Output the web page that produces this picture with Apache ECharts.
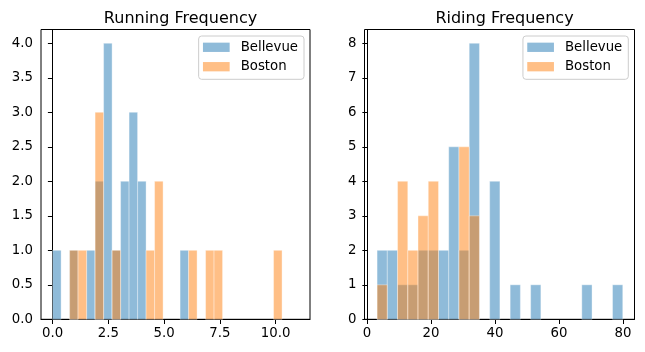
<!DOCTYPE html>
<html>
<head>
<meta charset="utf-8">
<script src="https://cdn.jsdelivr.net/npm/echarts@6/dist/echarts.min.js"></script>
<style>
html, body { margin: 0; padding: 0; background: #fff; }
#chart { width: 645px; height: 352px; }
</style>
</head>
<body>
<div id="chart"></div>
<script>
const seriesNames = ["Bellevue", "Boston"]

// running frequency, shared bins
const runBinStart = 0
const runBinWidth = 0.381
const runBellevue = [1, 0, 1, 0, 1, 2, 4, 1, 2, 3, 2, 0, 0, 0, 0, 1, 0, 0, 0, 0, 0, 0, 0, 0, 0, 0, 0]
const runBoston = [0, 0, 1, 1, 0, 3, 0, 1, 0, 0, 0, 1, 2, 0, 0, 0, 1, 0, 1, 1, 0, 0, 0, 0, 0, 0, 1]
const runXTicks = [0, 2.5, 5, 7.5, 10]
const runYTicks = [0, 0.5, 1, 1.5, 2, 2.5, 3, 3.5, 4]

// riding frequency, shared bins
const rideBinStart = 3.13
const rideBinWidth = 3.2
const rideBellevue = [2, 2, 1, 1, 2, 2, 2, 5, 2, 8, 0, 4, 0, 1, 0, 1, 0, 0, 0, 0, 1, 0, 0, 1]
const rideBoston = [1, 0, 4, 2, 3, 4, 0, 0, 5, 3, 0, 0, 0, 0, 0, 0, 0, 0, 0, 0, 0, 0, 0, 0]
const rideXTicks = [0, 20, 40, 60, 80]
const rideYTicks = [0, 1, 2, 3, 4, 5, 6, 7, 8]

const blue = "rgba(31,119,180,0.5)"
const orange = "rgba(255,127,14,0.5)"
const font = "DejaVu Sans"

const toBins = (counts, start, width) =>
	counts.map((c, i) => [start + i * width, start + (i + 1) * width, c]).filter(d => d[2] > 0)

const renderBar = color => (params, api) => {
	const p0 = api.coord([api.value(0), 0])
	const p1 = api.coord([api.value(1), api.value(2)])
	return {
		type: "rect",
		shape: { x: p0[0], y: p1[1], width: p1[0] - p0[0], height: p0[1] - p1[1] },
		style: { fill: color, stroke: "rgba(255,255,255,0.45)", lineWidth: 0.8 }
	}
}

const hist = (name, color, counts, start, width, idx) => ({
	name: name,
	type: "custom",
	xAxisIndex: idx,
	yAxisIndex: idx,
	itemStyle: { color: color },
	encode: { x: [0, 1], y: 2 },
	renderItem: renderBar(color),
	data: toBins(counts, start, width)
})

const xAxis = (idx, min, max, ticks, fmt) => ({
	type: "value",
	gridIndex: idx,
	min: min,
	max: max,
	axisLine: { show: true, onZero: false, lineStyle: { color: "#000", width: 1 } },
	axisTick: { show: true, customValues: ticks, length: 4.7, lineStyle: { color: "#000", width: 1 } },
	axisLabel: { customValues: ticks, formatter: fmt, margin: 8, color: "#000", fontSize: 13.3, fontFamily: font },
	splitLine: { show: false }
})

const yAxis = (idx, max, ticks, fmt) => ({
	type: "value",
	gridIndex: idx,
	min: 0,
	max: max,
	axisLine: { show: true, lineStyle: { color: "#000", width: 1 } },
	axisTick: { show: true, customValues: ticks, length: 4.7, lineStyle: { color: "#000", width: 1 } },
	axisLabel: { customValues: ticks, formatter: fmt, margin: 8, color: "#000", fontSize: 13.3, fontFamily: font },
	splitLine: { show: false }
})

const legend = right => ({
	orient: "vertical",
	right: right,
	top: 36,
	data: seriesNames,
	icon: "rect",
	itemWidth: 26.7,
	itemHeight: 9.3,
	itemGap: 3.4,
	padding: [3.3, 6, 4.6, 4.3],
	backgroundColor: "rgba(255,255,255,0.8)",
	borderColor: "#cccccc",
	borderWidth: 1,
	borderRadius: 3,
	selectedMode: false,
	textStyle: { fontSize: 13.3, fontFamily: font, color: "#000", lineHeight: 16, padding: [0, 0, 0, 6] }
})

const option = {
	animation: false,
	title: [
		{ text: "Running Frequency", left: 175.5, top: 6, textAlign: "center",
			textStyle: { fontSize: 16, fontWeight: "normal", fontFamily: font, color: "#000" } },
		{ text: "Riding Frequency", left: 499.5, top: 6, textAlign: "center",
			textStyle: { fontSize: 16, fontWeight: "normal", fontFamily: font, color: "#000" } }
	],
	legend: [legend(341), legend(16.7)],
	grid: [
		{ left: 41, top: 29.5, width: 269, height: 289.8, show: true, borderColor: "#000", borderWidth: 1 },
		{ left: 364.5, top: 29.5, width: 270, height: 289.8, show: true, borderColor: "#000", borderWidth: 1 }
	],
	xAxis: [
		xAxis(0, -0.52, 11.54, runXTicks, v => v.toFixed(1)),
		xAxis(1, -0.8, 83.6, rideXTicks, v => String(v))
	],
	yAxis: [
		yAxis(0, 4.2, runYTicks, v => v.toFixed(1)),
		yAxis(1, 8.4, rideYTicks, v => String(v))
	],
	series: [
		hist(seriesNames[0], blue, runBellevue, runBinStart, runBinWidth, 0),
		hist(seriesNames[1], orange, runBoston, runBinStart, runBinWidth, 0),
		hist(seriesNames[0], blue, rideBellevue, rideBinStart, rideBinWidth, 1),
		hist(seriesNames[1], orange, rideBoston, rideBinStart, rideBinWidth, 1)
	]
}

const chart = echarts.init(document.getElementById("chart"))
chart.setOption(option)
</script>
</body>
</html>
